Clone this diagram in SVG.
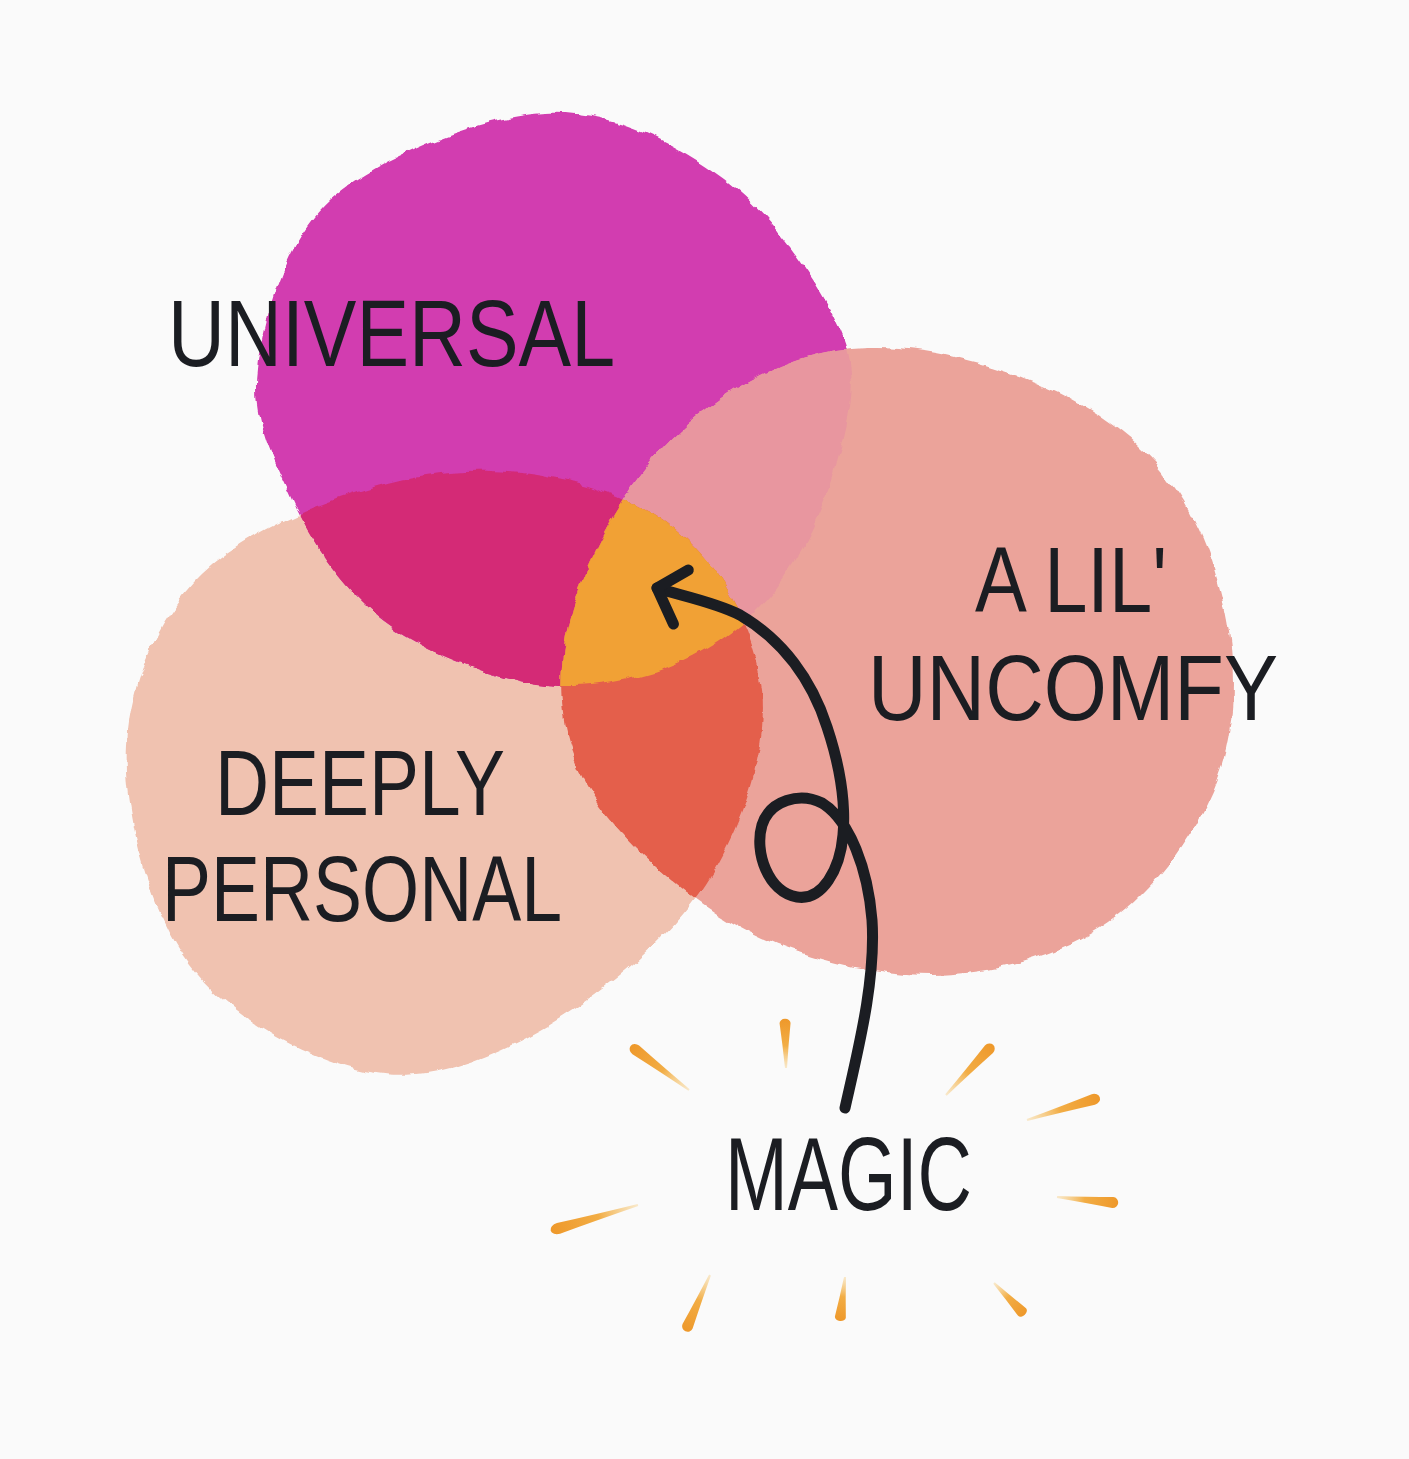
<svg xmlns="http://www.w3.org/2000/svg" width="1409" height="1459" viewBox="0 0 1409 1459">
<style>
.lbl{font-family:"Liberation Sans","Open Sans",sans-serif;font-weight:400;fill:#1b1d22}
.conn{fill:none;stroke:#1b1d22;stroke-width:11;stroke-linecap:round;stroke-linejoin:round}
</style>
<defs>
<filter id="rough" x="-10%" y="-10%" width="120%" height="120%">
<feTurbulence type="fractalNoise" baseFrequency="0.045" numOctaves="3" seed="4"/>
<feDisplacementMap in="SourceGraphic" scale="9" xChannelSelector="R" yChannelSelector="G"/>
</filter>
<path id="pM" d="M545,113 C610.7,109.5 674.3,141.7 724,179 C773.7,216.3 824.5,288.5 843,337 C861.5,385.5 846.3,427.8 835,470 C823.7,512.2 800.8,558 775,590 C749.2,622 715.8,646 680,662 C644.2,678 599,687 560,686 C521,685 479.3,670.3 446,656 C412.7,641.7 385.7,626 360,600 C334.3,574 309,538.3 292,500 C275,461.7 251.7,420 258,370 C264.3,320 282.2,242.8 330,200 C377.8,157.2 479.3,116.5 545,113 Z"/>
<path id="pP" d="M450,472 C525.8,465 615,486.7 667,523 C719,559.3 755.7,629.7 762,690 C768.3,750.3 742,828.3 705,885 C668,941.7 595.8,998.8 540,1030 C484.2,1061.2 428.3,1082.8 370,1072 C311.7,1061.2 230.5,1019.5 190,965 C149.5,910.5 123.3,811.7 127,745 C130.7,678.3 158.2,610.5 212,565 C265.8,519.5 374.2,479 450,472 Z"/>
<path id="pS" d="M900,348 C952.2,352.2 1025.5,374.2 1073,400 C1120.5,425.8 1158.5,459.7 1185,503 C1211.5,546.3 1228.3,610 1232,660 C1235.7,710 1229,758.3 1207,803 C1185,847.7 1146.2,899.3 1100,928 C1053.8,956.7 990,975.2 930,975 C870,974.8 796.7,957.8 740,927 C683.3,896.2 619.2,837.8 590,790 C560.8,742.2 556.8,692.2 565,640 C573.2,587.8 606.5,521.2 639,477 C671.5,432.8 716.5,396.5 760,375 C803.5,353.5 847.8,343.8 900,348 Z"/>
<clipPath id="clipM"><use href="#pM"/></clipPath>
<clipPath id="clipS"><use href="#pS"/></clipPath>
<linearGradient id="sparkGrad" x1="0" y1="0" x2="1" y2="0">
<stop offset="0" stop-color="#f6c873" stop-opacity="0.35"/>
<stop offset="0.45" stop-color="#f2ad45"/>
<stop offset="1" stop-color="#ee982a"/>
</linearGradient>
<path id="spark" d="M0,-1 Q30,-3 56,-5.5 A5.5,5.5 0 0 1 56,5.5 Q30,3 0,1 Z" fill="url(#sparkGrad)"/>
<marker id="head" markerUnits="userSpaceOnUse" markerWidth="80" markerHeight="80" refX="0" refY="0" orient="auto" overflow="visible">
<path d="M-27,-29 L0,0 L-24,27" fill="none" stroke="#1b1d22" stroke-width="11" stroke-linecap="round" stroke-linejoin="round"/>
</marker>
</defs>
<rect width="1409" height="1459" fill="#fafafa"/>

<g id="deeply-personal">
<g filter="url(#rough)"><use href="#pP" fill="#f0c2b0"/></g>
<text class="lbl" x="215" y="815" font-size="92" textLength="290" lengthAdjust="spacingAndGlyphs">DEEPLY</text>
<text class="lbl" x="162" y="921" font-size="92" textLength="400" lengthAdjust="spacingAndGlyphs">PERSONAL</text>
</g>

<g id="universal">
<g filter="url(#rough)"><use href="#pM" fill="#d23cb0"/></g>
<text class="lbl" x="168" y="366" font-size="94" textLength="447" lengthAdjust="spacingAndGlyphs">UNIVERSAL</text>
</g>

<g id="a-lil-uncomfy">
<g filter="url(#rough)"><use href="#pS" fill="#eba39a"/></g>
<text class="lbl" x="975" y="612" font-size="92" textLength="192" lengthAdjust="spacingAndGlyphs">A LIL'</text>
<text class="lbl" x="868" y="720" font-size="92" textLength="410" lengthAdjust="spacingAndGlyphs">UNCOMFY</text>
</g>

<g id="overlaps" filter="url(#rough)">
<use href="#pP" fill="#d42a76" clip-path="url(#clipM)"/>
<use href="#pS" fill="#e8969f" clip-path="url(#clipM)"/>
<use href="#pP" fill="#e45e4c" clip-path="url(#clipS)"/>
<g clip-path="url(#clipM)"><use href="#pP" fill="#f1a136" clip-path="url(#clipS)"/></g>
</g>

<g id="magic">
<use href="#spark" transform="translate(689,1090) rotate(217) scale(1.19,1)"/>
<use href="#spark" transform="translate(786,1068) rotate(268.8) scale(0.8,1)"/>
<use href="#spark" transform="translate(946,1095) rotate(-46.8) scale(1.12,1)"/>
<use href="#spark" transform="translate(1027,1120) rotate(-17.2) scale(1.24,1)"/>
<use href="#spark" transform="translate(1057,1197) rotate(5.7) scale(1.0,1)"/>
<use href="#spark" transform="translate(994,1283) rotate(45.9) scale(0.72,1)"/>
<use href="#spark" transform="translate(845,1277) rotate(96.6) scale(0.72,1)"/>
<use href="#spark" transform="translate(710,1275) rotate(113.6) scale(1.0,1)"/>
<use href="#spark" transform="translate(638,1205) rotate(163.6) scale(1.48,1)"/>
<text class="lbl" x="725" y="1210" font-size="104" textLength="247" lengthAdjust="spacingAndGlyphs">MAGIC</text>
</g>

<g id="connectors">
<path class="conn" marker-end="url(#head)" d="M845,1108 C858,1050 876,980 872,920 C868,870 850,820 822,803 C800,792 770,800 762,825 C754,852 768,892 797,897 C822,901 840,870 843,835 C846,800 838,760 827,727 C812,680 783,640 740,615 C715,602 678,595 657,588"/>
</g>
</svg>
